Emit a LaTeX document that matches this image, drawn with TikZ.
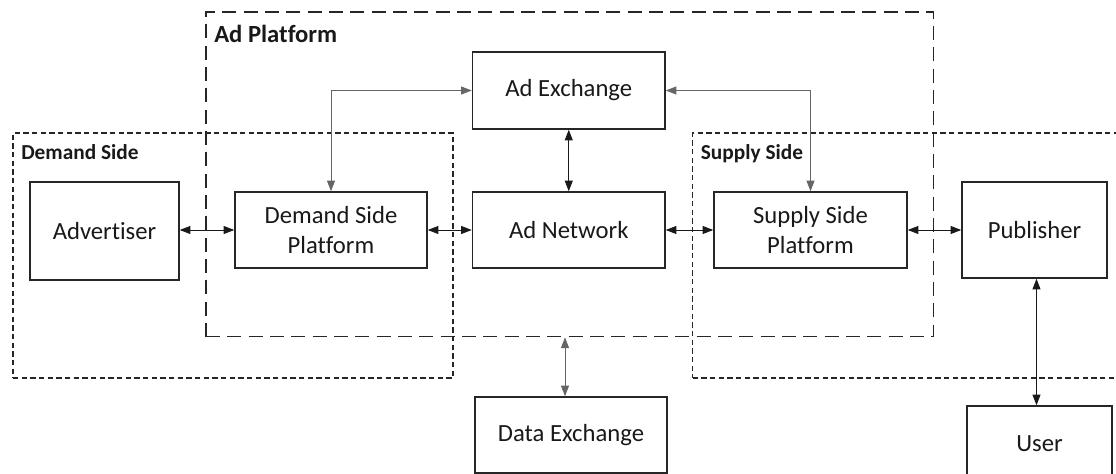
\documentclass[tikz,border=0pt]{standalone}
\usepackage{fontspec}
\setmainfont{Carlito}[Ligatures=NoCommon]
\usetikzlibrary{arrows.meta,calc}
\begin{document}
\begin{tikzpicture}[x=0.75pt,y=-0.75pt,
  box/.style={draw=black!85, line width=1.1pt, fill=white, align=center, inner sep=0pt,
    font=\fontsize{18.5}{22.5}\selectfont, text=black!90},
  bigframe/.style={draw=black!85, line width=1pt, dash pattern=on 10.5pt off 5.5pt, inner sep=0pt},
  smallframe/.style={draw=black!85, line width=0.8pt, dash pattern=on 4pt off 2.5pt, inner sep=0pt},
  frametitle/.style={anchor=base west, inner sep=0pt, font=\bfseries\fontsize{16}{19}\selectfont, text=black!90},
  conn/.style={line width=0.7pt, draw=black!90, {Triangle[length=8pt,width=6pt]}-{Triangle[length=8pt,width=6pt]}},
  gconn/.style={conn, draw=black!60}
]
\clip (0,0) rectangle (1116,474);
\useasboundingbox (0,0) rectangle (1116,474);

% dashed regions
\node[bigframe, minimum width=545.6pt, minimum height=243.5pt] (adplat) at (569.75,174.35) {};
\node[smallframe, minimum width=330pt, minimum height=183.75pt] (demand) at (233,255.5) {};
\node[smallframe, minimum width=327.9pt, minimum height=183.75pt] (supply) at (911.4,255.5) {};

\node[frametitle, font=\bfseries\fontsize{18.5}{22}\selectfont] (adplatlbl) at (214,43) {Ad Platform};
\node[frametitle] (demandlbl) at (21,160) {Demand Side};
\node[frametitle] (supplylbl) at (700.6,160) {Supply Side};

% boxes
\node[box, minimum width=111.75pt, minimum height=73.5pt] (adv) at (104.5,231) {Advertiser};
\node[box, minimum width=144pt, minimum height=57pt] (dsp) at (331,230) {Demand Side\\Platform};
\node[box, minimum width=144.4pt, minimum height=57.75pt] (adx) at (568.75,90.5) {Ad Exchange};
\node[box, minimum width=144.4pt, minimum height=57pt] (adn) at (568.75,230) {Ad Network};
\node[box, minimum width=144.75pt, minimum height=57pt] (ssp) at (810.5,230) {Supply Side\\Platform};
\node[box, minimum width=108.75pt, minimum height=72pt] (pub) at (1034.5,230) {Publisher};
\node[box, minimum width=144pt, minimum height=57pt] (dex) at (571,435) {Data Exchange};
\node[box, minimum width=108.75pt, minimum height=57pt] (usr) at (1039.5,444) {User};

% connectors
\draw[conn] (adv.east |- dsp.west) -- (dsp.west);
\draw[conn] (dsp.east) -- (adn.west);
\draw[conn] (adn.east) -- (ssp.west);
\draw[conn] (ssp.east) -- (pub.west);
\draw[conn] (adx.south) -- (adn.north);
\draw[gconn] (dsp.north) |- (adx.west);
\draw[gconn] (adx.east) -| (ssp.north);
\draw[gconn] ([xshift=-4.5pt]dex.north) -- ([xshift=-4.5pt]dex.north |- adplat.south);
\draw[conn] ([xshift=1.5pt]pub.south) -- ([xshift=1.5pt]pub.south |- usr.north);
\end{tikzpicture}
\end{document}
